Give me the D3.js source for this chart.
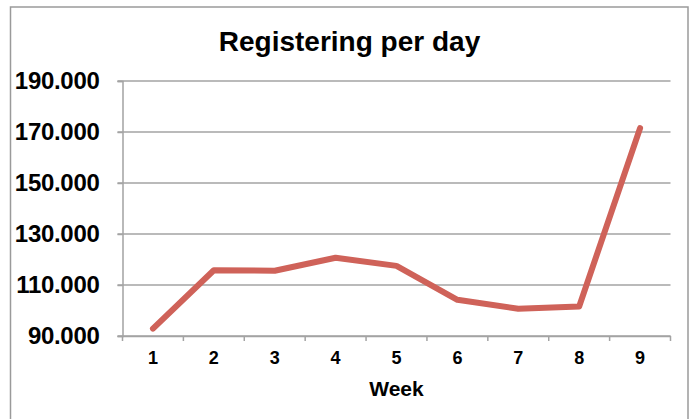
<!DOCTYPE html>
<html>
<head>
<meta charset="utf-8">
<script src="https://cdn.jsdelivr.net/npm/d3@7"></script>
<style>
  html, body { margin: 0; padding: 0; background: #fff; }
  svg { display: block; }
  text { font-family: "Liberation Sans", Arial, Helvetica, sans-serif; font-weight: bold; fill: #000; }
</style>
</head>
<body>
<svg id="chart" width="692" height="419"></svg>
<script>
const weeks = ["1", "2", "3", "4", "5", "6", "7", "8", "9"];
const registrations = [92900, 115800, 115600, 120700, 117500, 104200, 100700, 101600, 171500];
const yTicks = [90000, 110000, 130000, 150000, 170000, 190000];
const chartTitle = "Registering per day";
const xTitle = "Week";

const W = 692, H = 419;
const plot = { left: 122.5, right: 670.5, top: 81, bottom: 336 };

const svg = d3.select("#chart");

// outer frame
svg.append("rect")
  .attr("x", 10.5).attr("y", 7)
  .attr("width", 677.5).attr("height", 430)
  .attr("fill", "#fff").attr("stroke", "#9a9a9a").attr("stroke-width", 1.5);

const x = d3.scaleBand().domain(weeks).range([plot.left, plot.right]).paddingInner(0).paddingOuter(0);
const y = d3.scaleLinear().domain([90000, 190000]).range([plot.bottom, plot.top]);

const loc = d3.formatLocale({ decimal: ",", thousands: ".", grouping: [3], currency: ["", ""] });
const fmt = loc.format(",");

// gridlines
svg.append("g").selectAll("line").data(yTicks).join("line")
  .attr("x1", plot.left - 5).attr("x2", plot.right)
  .attr("y1", d => y(d)).attr("y2", d => y(d))
  .attr("stroke", "#a3a3a3").attr("stroke-width", 1.5);

// y axis
const yAxis = svg.append("g")
  .attr("transform", `translate(${plot.left},0)`)
  .call(d3.axisLeft(y).tickValues(yTicks).tickFormat(fmt).tickSize(5).tickPadding(18));
yAxis.select(".domain").attr("stroke", "#a3a3a3").attr("stroke-width", 1.5);
yAxis.selectAll(".tick line").attr("stroke", "#a3a3a3").attr("stroke-width", 1.5);
yAxis.selectAll(".tick text")
  .attr("font-size", 24).attr("font-family", "Liberation Sans, Arial, sans-serif")
  .attr("font-weight", "bold").attr("fill", "#000").attr("letter-spacing", "-0.3px");

// x axis
const xAxis = svg.append("g")
  .attr("transform", `translate(0,${plot.bottom})`)
  .call(d3.axisBottom(x).tickSize(0).tickPadding(15));
xAxis.select(".domain").attr("stroke", "#a3a3a3").attr("stroke-width", 1.5);
xAxis.selectAll(".tick text")
  .attr("font-size", 18).attr("font-family", "Liberation Sans, Arial, sans-serif")
  .attr("font-weight", "bold").attr("fill", "#000");
// boundary tick marks
const bounds = weeks.map(w => x(w)).concat([x(weeks[weeks.length - 1]) + x.bandwidth()]);
svg.append("g").selectAll("line").data(bounds).join("line")
  .attr("x1", d => d).attr("x2", d => d)
  .attr("y1", plot.bottom).attr("y2", plot.bottom + 5)
  .attr("stroke", "#a3a3a3").attr("stroke-width", 1.5);

// line
const line = d3.line()
  .x((d, i) => x(weeks[i]) + x.bandwidth() / 2)
  .y(d => y(d));
svg.append("path")
  .datum(registrations)
  .attr("d", line)
  .attr("fill", "none")
  .attr("stroke", "#cf6259")
  .attr("stroke-width", 6)
  .attr("stroke-linejoin", "round")
  .attr("stroke-linecap", "round");

// titles
svg.append("text")
  .attr("x", 349.5).attr("y", 51)
  .attr("text-anchor", "middle")
  .attr("font-size", 28)
  .text(chartTitle);

svg.append("text")
  .attr("x", (plot.left + plot.right) / 2).attr("y", 396)
  .attr("text-anchor", "middle")
  .attr("font-size", 21)
  .text(xTitle);
</script>
</body>
</html>
